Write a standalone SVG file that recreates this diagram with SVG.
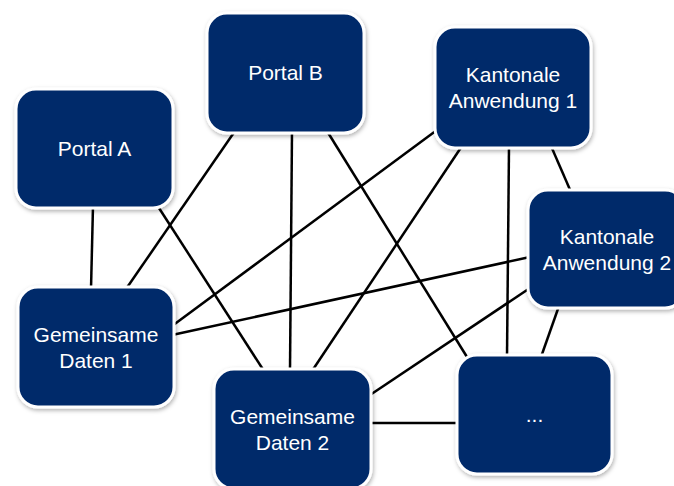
<svg xmlns="http://www.w3.org/2000/svg" width="674" height="486" viewBox="0 0 674 486">
  <defs>
    <filter id="sh" x="-10%" y="-10%" width="130%" height="130%">
      <feDropShadow dx="1" dy="2" stdDeviation="2" flood-color="#000" flood-opacity="0.3"/>
    </filter>
    <style>
      .box { fill: #022a6b; stroke: #ffffff; stroke-width: 3; filter: url(#sh); }
      .lbl { fill: #ffffff; font-family: "Liberation Sans", Arial, sans-serif; font-size: 21px; text-anchor: middle; }
      .conn line { stroke: #000000; stroke-width: 2.5; stroke-linecap: butt; }
    </style>
  </defs>
  <rect width="674" height="486" fill="#ffffff"/>
  <g id="connectors" class="conn">
    <line x1="93" y1="206" x2="91" y2="289"/>
    <line x1="159" y1="208" x2="264" y2="371"/>
    <line x1="235" y1="131" x2="126" y2="289"/>
    <line x1="292" y1="131" x2="290" y2="371"/>
    <line x1="327" y1="131" x2="467" y2="357"/>
    <line x1="437" y1="130" x2="172" y2="326"/>
    <line x1="462" y1="146" x2="312" y2="371"/>
    <line x1="509" y1="146" x2="507" y2="357"/>
    <line x1="551" y1="146" x2="571" y2="192"/>
    <line x1="530" y1="257" x2="172" y2="335"/>
    <line x1="530" y1="288" x2="370" y2="395"/>
    <line x1="559" y1="306" x2="541" y2="357"/>
    <line x1="370" y1="423" x2="459" y2="423"/>
  </g>
  <g id="portal-a">
    <rect class="box" x="16" y="89" width="157" height="119" rx="20"/>
    <text class="lbl" x="94.5" y="156">Portal A</text>
  </g>
  <g id="portal-b">
    <rect class="box" x="207" y="13" width="157" height="120" rx="20"/>
    <text class="lbl" x="285.5" y="80">Portal B</text>
  </g>
  <g id="kantonale-1">
    <rect class="box" x="435" y="27" width="156" height="121" rx="20"/>
    <text class="lbl" x="513" y="82">Kantonale</text>
    <text class="lbl" x="513" y="108">Anwendung 1</text>
  </g>
  <g id="kantonale-2">
    <rect class="box" x="528" y="190" width="157" height="118" rx="20"/>
    <text class="lbl" x="607" y="244">Kantonale</text>
    <text class="lbl" x="607" y="270">Anwendung 2</text>
  </g>
  <g id="daten-1">
    <rect class="box" x="18" y="287" width="156" height="120" rx="20"/>
    <text class="lbl" x="96" y="342">Gemeinsame</text>
    <text class="lbl" x="96" y="368">Daten 1</text>
  </g>
  <g id="daten-2">
    <rect class="box" x="214" y="369" width="157" height="120" rx="20"/>
    <text class="lbl" x="292.5" y="424">Gemeinsame</text>
    <text class="lbl" x="292.5" y="450">Daten 2</text>
  </g>
  <g id="more">
    <rect class="box" x="457" y="355" width="155" height="119" rx="20"/>
    <text class="lbl" x="534.5" y="422">...</text>
  </g>
</svg>
